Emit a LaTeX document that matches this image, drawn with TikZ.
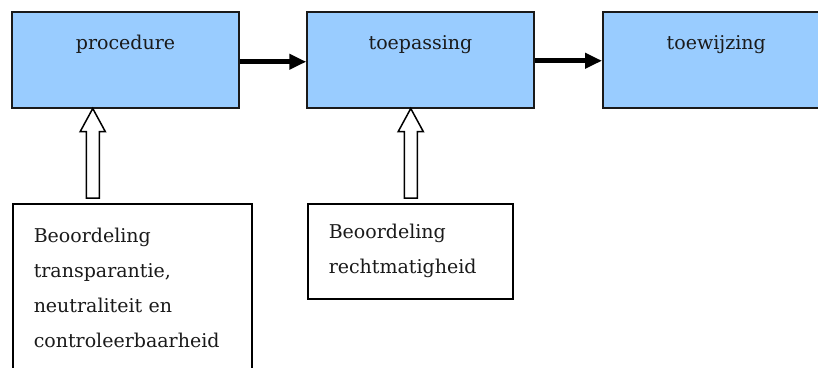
\documentclass[tikz,border=0pt]{standalone}
\usepackage{fontspec}
\setmainfont{DejaVu Serif}
\usetikzlibrary{arrows.meta,calc}

\definecolor{stagefill}{HTML}{99CCFF}
\definecolor{inkgray}{HTML}{1A1A1A}

\tikzset{
  stagebox/.style={draw=inkgray, line width=1.5pt, fill=stagefill,
    minimum width=227pt, inner ysep=0pt, text height=38pt, text depth=58pt,
    anchor=north},
  notebox/.style={draw=black, line width=1.5pt, fill=white, align=left,
    inner xsep=21pt, anchor=north west},
  flow/.style={line width=5pt, -{Triangle[length=17pt,width=15pt]}},
  % open block arrow, straight up from the foot of the shaft to the tip
  hollow/.style={draw=black, line width=1.5pt, fill=white, to path={
    ($(\tikztostart)+(-6.5,0)$) -- ($(\tikztostart |- \tikztotarget)+(-6.5,23)$)
    -- ($(\tikztostart |- \tikztotarget)+(-12.5,23)$) -- (\tikztostart |- \tikztotarget)
    -- ($(\tikztostart |- \tikztotarget)+(12.5,23)$) -- ($(\tikztostart |- \tikztotarget)+(6.5,23)$)
    -- ($(\tikztostart)+(6.5,0)$) -- cycle}}
}

\begin{document}
\begin{tikzpicture}[x=1pt, y=-1pt, font=\fontsize{19}{35}\selectfont, text=inkgray]
  \useasboundingbox (0,0) rectangle (818,367);
  \clip (0,0) rectangle (818,367);

  % top row
  \node[stagebox] (proc) at (125.5,11) {procedure};
  \node[stagebox] (toep) at (420.5,11) {toepassing};
  \node[stagebox, anchor=north west] (toew) at (602,11) {toewijzing};

  \draw[flow] ([yshift=-2pt]proc.east) -- ([yshift=-2pt]toep.west);
  \draw[flow] ([yshift=-1pt]toep.east) -- ([yshift=-1pt]toew.west);

  % assessments below
  \node[notebox, text width=197pt, minimum height=169pt] (bproc) at (12,203)
    {Beoordeling\\transparantie,\\neutraliteit en\\controleerbaarheid};
  \node[notebox, text width=163pt, minimum height=95pt] (btoep) at (307,203)
    {Beoordeling\\rechtmatigheid};

  \draw[hollow] ([xshift=-39.5pt,yshift=5pt]bproc.north) to (proc.south);
  \draw[hollow] ([xshift=0.5pt,yshift=5pt]btoep.north) to (toep.south);
\end{tikzpicture}
\end{document}
